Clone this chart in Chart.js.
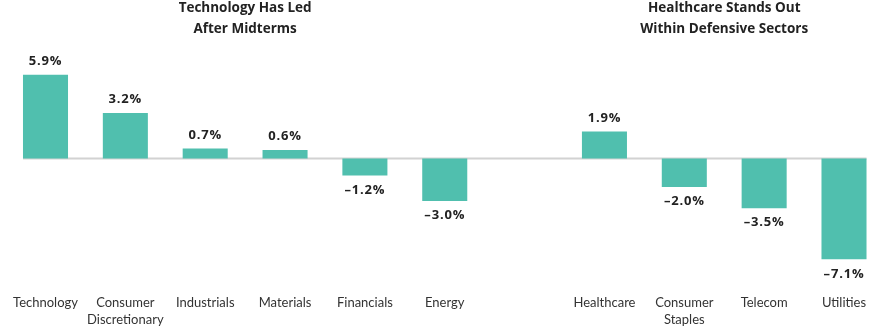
<!DOCTYPE html>
<html>
<head>
<meta charset="utf-8">
<script src="https://cdn.jsdelivr.net/npm/chart.js@4/dist/chart.umd.min.js"></script>
<style>
html,body{margin:0;padding:0;background:#fff;overflow:hidden;}
#wrap{width:880px;height:331px;position:relative;}
</style>
</head>
<body>
<div id="wrap"><canvas id="c"></canvas></div>
<script>
const categories = [
  'Technology', ['Consumer', 'Discretionary'], 'Industrials', 'Materials', 'Financials', 'Energy',
  '',
  'Healthcare', ['Consumer', 'Staples'], 'Telecom', 'Utilities'
];
const values = [5.9, 3.2, 0.7, 0.6, -1.2, -3.0, null, 1.9, -2.0, -3.5, -7.1];
const groupTitles = [
  { lines: ['Technology Has Led', 'After Midterms'], from: 0, to: 5 },
  { lines: ['Healthcare Stands Out', 'Within Defensive Sectors'], from: 7, to: 10 }
];

const TICK_FONT = 'Lato, "Open Sans", sans-serif';
const BOLD_FONT = '"Open Sans", Lato, sans-serif';
const BAR = '#50bfae';

function fmt(v) {
  const s = Math.abs(v).toFixed(1) + '%';
  return v < 0 ? '\u2013' + s : s;
}

const overlay = {
  id: 'overlay',
  beforeDatasetsDraw(chart) {
    const ctx = chart.ctx;
    const meta = chart.getDatasetMeta(0);
    const y0 = chart.scales.y.getPixelForValue(0);
    const els = meta.data.filter((e, i) => values[i] !== null);
    const first = els[0], last = els[els.length - 1];
    ctx.save();
    ctx.strokeStyle = '#d2d2d2';
    ctx.lineWidth = 2;
    ctx.beginPath();
    ctx.moveTo(first.x - first.width / 2, y0);
    ctx.lineTo(last.x + last.width / 2, y0);
    ctx.stroke();
    ctx.restore();
  },
  afterDatasetsDraw(chart) {
    const ctx = chart.ctx;
    const meta = chart.getDatasetMeta(0);
    const xs = chart.scales.x;
    ctx.save();
    ctx.fillStyle = '#222';
    ctx.textAlign = 'center';
    ctx.textBaseline = 'middle';
    ctx.font = 'bold 13px ' + BOLD_FONT;
    try { ctx.letterSpacing = '0.8px'; } catch (e) {}
    meta.data.forEach((el, i) => {
      const v = values[i];
      if (v === null) return;
      const y = v >= 0 ? el.y - 13.5 : el.y + 14.5;
      ctx.fillText(fmt(v), el.x, y);
    });
    try { ctx.letterSpacing = '0px'; } catch (e) {}
    ctx.font = 'bold 13.5px ' + BOLD_FONT;
    groupTitles.forEach(g => {
      const cx = (xs.getPixelForValue(g.from) + xs.getPixelForValue(g.to)) / 2;
      g.lines.forEach((l, k) => ctx.fillText(l, cx, 8 + k * 21));
    });
    ctx.restore();
  }
};

new Chart(document.getElementById('c'), {
  type: 'bar',
  data: {
    labels: categories,
    datasets: [{
      data: values,
      backgroundColor: BAR,
      borderWidth: 0,
      categoryPercentage: 1,
      barPercentage: 0.564,
      clip: false
    }]
  },
  options: {
    responsive: true,
    maintainAspectRatio: false,
    animation: false,
    layout: { padding: { left: 45.5, right: 36, top: 44.9, bottom: 0 } },
    plugins: { legend: { display: false }, tooltip: { enabled: false }, title: { display: false } },
    scales: {
      x: {
        offset: false,
        grid: { display: false, drawTicks: false, offset: false },
        border: { display: false },
        ticks: {
          autoSkip: false, maxRotation: 0, minRotation: 0, padding: 22.4,
          color: '#333', font: { family: TICK_FONT, size: 13, lineHeight: '17px' }
        },
        afterFit(s) { s.paddingLeft = 0; s.paddingRight = 0; s.height = 58.9; }
      },
      y: {
        display: false,
        min: -8, max: 8
      }
    }
  },
  plugins: [overlay]
});
</script>
</body>
</html>
